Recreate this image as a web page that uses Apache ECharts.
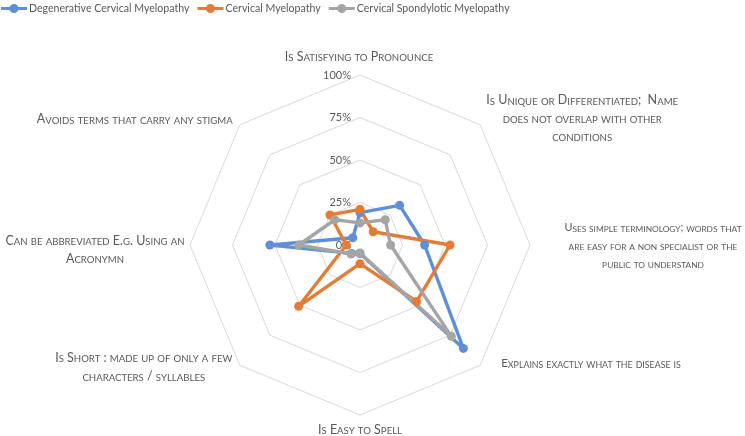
<!DOCTYPE html>
<html>
<head>
<meta charset="utf-8">
<script src="https://cdn.jsdelivr.net/npm/echarts@6/dist/echarts.min.js"></script>
<style>
html,body{margin:0;padding:0;background:#fff;}
#chart{width:745px;height:436px;}
</style>
</head>
<body>
<div id="chart"></div>
<script>
// Axis categories, clockwise from the top (line breaks as in the original)
const categories = [
  'Is Satisfying to Pronounce',
  'Is Unique or Differentiated;  Name\ndoes not overlap with other\nconditions',
  'Uses simple terminology; words that\nare easy for a non specialist or the\npublic to understand',
  'Explains exactly what the disease is',
  'Is Easy to Spell',
  'Is Short : made up of only a few\ncharacters / syllables',
  'Can be abbreviated E.g. Using an\nAcronymn',
  'Avoids terms that carry any stigma'
];
const seriesNames = ['Degenerative Cervical Myelopathy', 'Cervical Myelopathy', 'Cervical Spondylotic Myelopathy'];
const degenerative = [0.19, 0.33, 0.38, 0.86, 0.05, 0.07, 0.53, 0.06];
const cervical     = [0.21, 0.11, 0.53, 0.47, 0.11, 0.51, 0.08, 0.25];
const spondylotic  = [0.13, 0.21, 0.18, 0.76, 0.047, 0.075, 0.36, 0.21];
const tickValues = [0, 0.25, 0.5, 0.75, 1];
const colors = ['#5F8FD6', '#E47C35', '#A5A5A5'];

const FONT = 'Lato, "Open Sans", sans-serif';
const TEXT = '#595959';
const cx = 360, cy = 245, R = 170;

// ECharts lays radar indicators counter-clockwise: reorder so the picture reads clockwise
const order = [0, 7, 6, 5, 4, 3, 2, 1];
const reorder = arr => order.map(i => arr[i]);

// small caps via rich text
function smallCaps(str) {
  return str.split('\n').map(line => {
    let out = '', cur = null, buf = '';
    for (const ch of line) {
      const t = (ch >= 'a' && ch <= 'z') ? 's' : 'b';
      if (t !== cur && buf) { out += '{' + cur + '|' + buf + '}'; buf = ''; }
      cur = t;
      buf += t === 's' ? ch.toUpperCase() : ch;
    }
    if (buf) out += '{' + cur + '|' + buf + '}';
    return out;
  }).join('\n');
}
function richFor(k) {
  return {
    b: { fontSize: 12.5 * k, fontFamily: FONT, fill: TEXT, lineHeight: 18.3, verticalAlign: 'bottom' },
    s: { fontSize: 9.6 * k, fontFamily: FONT, fill: TEXT, lineHeight: 18.3, verticalAlign: 'bottom' }
  };
}
// label placement relative to each axis tip: [dx, dy, align, fontScale]
const labelPlace = [
  [-1, -21, 'center', 1],
  [102, -9, 'center', 1],
  [123, -3, 'center', 0.87],
  [21, -5, 'left', 0.92],
  [0, 12, 'center', 1],
  [-96, -1, 'center', 1],
  [-95, 2, 'center', 1],
  [-105, -8, 'center', 1]
];
const labelGraphics = categories.map((name, i) => {
  const a = i * Math.PI / 4;
  const tx = cx + R * Math.sin(a), ty = cy - R * Math.cos(a);
  const p = labelPlace[i];
  return {
    type: 'text', x: tx + p[0], y: ty + p[1], silent: true,
    style: { text: smallCaps(name), rich: richFor(p[3]), align: p[2], verticalAlign: 'middle', fill: TEXT, fontFamily: FONT }
  };
});

const legendIcon = 'path://M0,3.5H26V6.5H0Z M13,0.5A4.5,4.5,0,1,1,12.99,0.5Z';

const chart = echarts.init(document.getElementById('chart'), null, { renderer: 'canvas' });
chart.setOption({
  backgroundColor: '#fff',
  animation: false,
  color: colors,
  legend: {
    left: 1, top: 3, padding: [0, 0],
    itemWidth: 26, itemHeight: 10, itemGap: 8,
    icon: legendIcon,
    textStyle: { color: TEXT, fontSize: 10.6, fontFamily: FONT, padding: [0, 0, 0, -3] },
    data: seriesNames
  },
  radar: {
    center: [cx, cy], radius: R, startAngle: 90,
    shape: 'polygon', splitNumber: 4,
    indicator: reorder(categories).map(n => ({ name: n, min: 0, max: 1 })),
    axisName: { show: false },
    axisLine: { show: false },
    axisTick: { show: false },
    splitArea: { show: false },
    splitLine: { lineStyle: { color: '#D9D9D9', width: 1 } }
  },
  polar: { center: [cx, cy], radius: R },
  angleAxis: { show: false, startAngle: 90, min: 0, max: 360 },
  radiusAxis: {
    min: 0, max: 1, interval: 0.25,
    axisLine: { show: false }, axisTick: { show: false }, splitLine: { show: false },
    axisLabel: {
      color: TEXT, fontSize: 11, fontFamily: FONT, margin: 9,
      formatter: v => tickValues.includes(v) ? Math.round(v * 100) + '%' : ''
    }
  },
  graphic: labelGraphics,
  series: [{
    type: 'radar',
    symbol: 'circle', symbolSize: 9,
    lineStyle: { width: 3.4 },
    data: [degenerative, cervical, spondylotic].map((d, k) => ({
      name: seriesNames[k], value: reorder(d),
      itemStyle: { color: colors[k] },
      lineStyle: { color: colors[k], width: 3.4 }
    }))
  }]
});
</script>
</body>
</html>
